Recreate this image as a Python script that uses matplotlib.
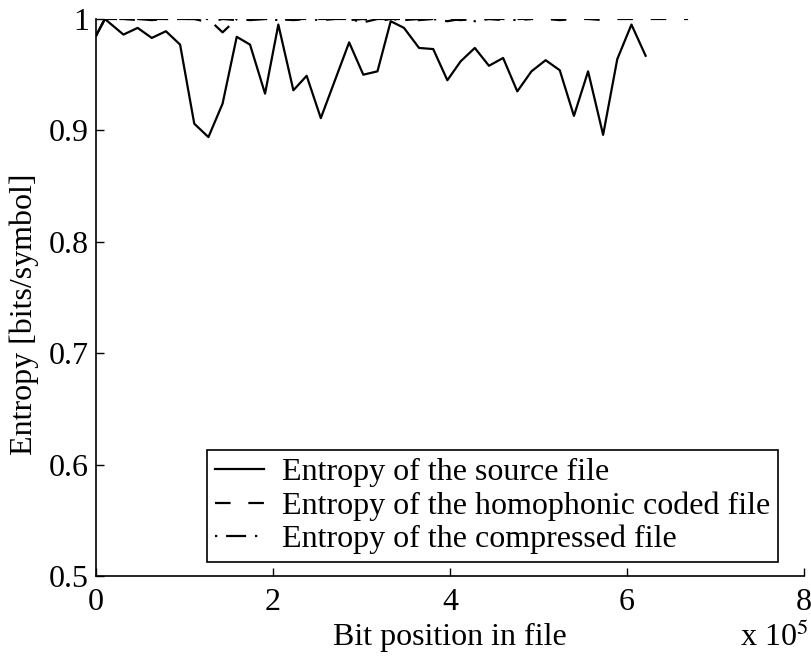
import matplotlib.pyplot as plt

plt.rcParams['font.family'] = ['Liberation Serif', 'DejaVu Serif']
plt.rcParams['mathtext.fontset'] = 'stix'

# Positions in the file (units of 1e5 bits)
x_src = [0, 0.10, 0.31, 0.47, 0.63, 0.79, 0.95, 1.11, 1.27, 1.43, 1.59, 1.74, 1.91,
         2.06, 2.23, 2.38, 2.54, 2.70, 2.86, 3.02, 3.18, 3.33, 3.48, 3.65, 3.81, 3.97,
         4.12, 4.28, 4.44, 4.60, 4.76, 4.92, 5.08, 5.24, 5.40, 5.56, 5.73, 5.89, 6.05, 6.21]
h_src = [0.985, 1.0, 0.986, 0.992, 0.983, 0.989, 0.977, 0.906, 0.894, 0.924, 0.984, 0.977, 0.933,
         0.995, 0.936, 0.949, 0.911, 0.945, 0.979, 0.950, 0.953, 0.998, 0.992, 0.974, 0.973, 0.945,
         0.962, 0.974, 0.958, 0.965, 0.935, 0.953, 0.963, 0.954, 0.913, 0.953, 0.896, 0.964, 0.995, 0.967]

x_hom = x_src + [6.37, 6.53, 6.69]
h_hom = [0.985, 1.0, 1.0, 0.999, 1.0, 1.0, 1.0, 1.0, 0.997, 1.0, 0.999, 1.0, 1.0,
         1.0, 0.999, 1.0, 1.0, 1.0, 0.999, 1.0, 0.998, 1.0, 1.0, 0.999, 1.0, 1.0,
         0.999, 1.0, 1.0, 0.999, 1.0, 1.0, 1.0, 0.999, 1.0, 1.0, 0.999, 1.0, 1.0, 1.0,
         1.0, 1.0, 1.0]

x_cmp = x_src[:32]
h_cmp = [0.985, 1.0, 1.0, 1.0, 0.999, 1.0, 1.0, 1.0, 1.0, 0.988, 1.0, 0.999, 1.0,
         0.999, 1.0, 1.0, 0.999, 1.0, 1.0, 0.997, 1.0, 1.0, 0.999, 1.0, 1.0, 0.998,
         1.0, 0.998, 1.0, 1.0, 0.999, 1.0]

fig = plt.figure(figsize=(8.11, 6.57), dpi=100)
ax = fig.add_axes([0.1184, 0.1233, 0.873, 0.8478])

ax.plot(x_src, h_src, color='black', lw=1.6, label='Entropy of the source file')
ax.plot(x_hom, h_hom, color='black', lw=1.6, dashes=(7, 8),
        label='Entropy of the homophonic coded file')
ax.plot(x_cmp, h_cmp, color='black', lw=1.6, dashes=(1, 4, 9, 4),
        label='Entropy of the compressed file')

ax.set_xlim(0, 8)
ax.set_ylim(0.5, 1)
ax.set_xticks([0, 2, 4, 6, 8])
ax.set_xticklabels(['0', '2', '4', '6', '8'])
ax.set_yticks([0.5, 0.6, 0.7, 0.8, 0.9, 1.0])
ax.set_yticklabels(['0.5', '0.6', '0.7', '0.8', '0.9', '1'])
ax.tick_params(direction='in', length=6, width=1, labelsize=23)
ax.tick_params(axis='y', pad=5)
ax.tick_params(axis='x', pad=9)
for s in ['top', 'right']:
    ax.spines[s].set_visible(False)
for s in ['left', 'bottom']:
    ax.spines[s].set_linewidth(1.2)

ax.set_xlabel('Bit position in file', fontsize=23)
ax.xaxis.set_label_coords(0.5, -0.085)
ax.set_ylabel('Entropy [bits/symbol]', fontsize=23)
ax.yaxis.set_label_coords(-0.08, 0.47)
fig.text(0.912, 0.016, r'x 10$^5$', fontsize=23, ha='left', va='baseline')

leg = ax.legend(loc='lower right', bbox_to_anchor=(0.963, 0.025), fontsize=23,
                frameon=True, fancybox=False, framealpha=1, edgecolor='black',
                borderpad=0.25, labelspacing=0.12, handlelength=1.55, handletextpad=0.55,
                borderaxespad=0)
leg.get_frame().set_linewidth(1.2)

fig.savefig('out.png', dpi=100)
